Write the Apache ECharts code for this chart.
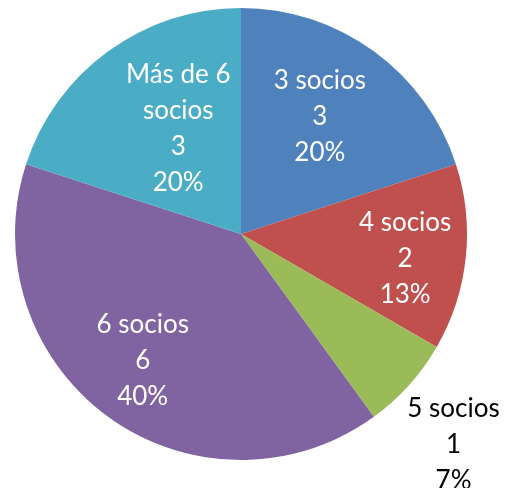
<!DOCTYPE html>
<html>
<head>
<meta charset="utf-8">
<script src="https://cdn.jsdelivr.net/npm/echarts@6/dist/echarts.min.js"></script>
<style>
  html, body { margin: 0; padding: 0; background: #ffffff; }
  #chart { width: 508px; height: 488px; }
</style>
</head>
<body>
<div id="chart"></div>
<script>
const categories = ["3 socios", "4 socios", "5 socios", "6 socios", "Más de 6 socios"];
const labelNames = ["3 socios", "4 socios", "5 socios", "6 socios", "Más de 6\nsocios"];
const values = [3, 2, 1, 6, 3];
const colors = ["#4F81BD", "#C0504D", "#9BBB59", "#8064A2", "#4BACC6"];

// label placement: distance from the pie centre and a small turn (degrees) off the slice middle
const labelRadius = [141, 166, 299, 160, 123];
const labelTurn = [2, -2.6, -2.7, -1.9, -5.3];
const CX = 241, CY = 234;

const chart = echarts.init(document.getElementById("chart"), null, { renderer: "canvas" });

chart.setOption({
  backgroundColor: "#ffffff",
  animation: false,
  series: [
    {
      type: "pie",
      center: [CX, CY],
      radius: [0, 226],
      startAngle: 90,
      clockwise: true,
      label: {
        show: true,
        position: "inside",
        color: "#ffffff",
        fontFamily: "Lato",
        fontSize: 26,
        lineHeight: 36,
        align: "center",
        formatter: (p) => `${labelNames[p.dataIndex]}\n${p.value}\n${Math.round(p.percent)}%`,
      },
      labelLine: { show: false },
      labelLayout: (params) => {
        const r = params.labelRect;
        const vx = r.x + r.width / 2 - CX;
        const vy = r.y + r.height / 2 - CY;
        const a = (labelTurn[params.dataIndex] * Math.PI) / 180;
        const s = labelRadius[params.dataIndex] / Math.hypot(vx, vy);
        const nx = (vx * Math.cos(a) + vy * Math.sin(a)) * s;
        const ny = (-vx * Math.sin(a) + vy * Math.cos(a)) * s;
        return { dx: nx - vx, dy: ny - vy };
      },
      itemStyle: { borderWidth: 0 },
      emphasis: { disabled: true },
      data: categories.map((name, i) => ({
        name,
        value: values[i],
        itemStyle: { color: colors[i] },
        label: i === 2 ? { color: "#000000" } : undefined,
      })),
    },
  ],
});
</script>
</body>
</html>
